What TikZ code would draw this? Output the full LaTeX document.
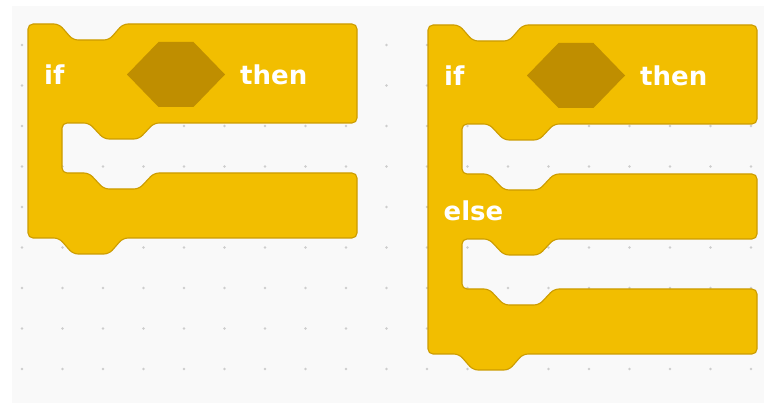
\documentclass[tikz,border=0pt]{standalone}
\usepackage{fontspec}
\newfontfamily\blockfont{DejaVu Sans}
\definecolor{panelbg}{RGB}{249,249,249}
\definecolor{dotc}{RGB}{205,205,205}
\definecolor{blockfill}{RGB}{242,190,0}
\definecolor{blockline}{RGB}{204,156,0}
\definecolor{hexfill}{RGB}{191,142,0}
\tikzset{
  blockshape/.style={fill=blockfill, draw=blockline, line width=1.1pt, rounded corners=5pt, line join=round},
  hexshape/.style={fill=hexfill, draw=none},
  blocktext/.style={text=white, inner sep=0pt, anchor=base west, font=\blockfont\bfseries\fontsize{26}{30}\selectfont}
}
\begin{document}
\begin{tikzpicture}[x=1pt, y=-1pt]
\useasboundingbox (0,0) rectangle (764,403);
\fill[white] (0,0) rectangle (764,403);
\fill[panelbg] (12,6) rectangle (764,403);
\foreach \i in {0,...,18}{
  \foreach \j in {0,...,8}{
    \fill[dotc] ({22+40.5*\i},{45+40.5*\j}) circle (1.3pt);
  }
}
% if-then block
\begin{scope}[shift={(28,24)}]
\draw[blockshape] (0,50) -- (0,0) -- (31,0) -- (45,16) -- (81,16) -- (95,0) -- (329,0) -- (329,99)
  -- (126,99) -- (111,115) -- (76,115) -- (61,99) -- (34,99) -- (34,149)
  -- (61,149) -- (76,165) -- (111,165) -- (126,149) -- (329,149) -- (329,214)
  -- (95,214) -- (81,230) -- (45,230) -- (31,214) -- (0,214) -- cycle;
\fill[hexshape] (99,50.5) -- (130.5,18) -- (165.5,18) -- (197,50.5) -- (165.5,83) -- (130.5,83) -- cycle;
\node[blocktext] (if1) at (16,61) {if};
\node[blocktext] (then1) at (212,61) {then};
\end{scope}
% if-then-else block
\begin{scope}[shift={(428,25)}]
\draw[blockshape] (0,50) -- (0,0) -- (31,0) -- (45,16) -- (81,16) -- (95,0) -- (329,0) -- (329,99)
  -- (126,99) -- (111,115) -- (76,115) -- (61,99) -- (34,99) -- (34,149)
  -- (61,149) -- (76,165) -- (111,165) -- (126,149) -- (329,149) -- (329,214)
  -- (126,214) -- (111,230) -- (76,230) -- (61,214) -- (34,214) -- (34,264)
  -- (61,264) -- (76,280) -- (111,280) -- (126,264) -- (329,264) -- (329,329)
  -- (95,329) -- (81,345) -- (45,345) -- (31,329) -- (0,329) -- cycle;
\fill[hexshape] (99,50.5) -- (130.5,18) -- (165.5,18) -- (197,50.5) -- (165.5,83) -- (130.5,83) -- cycle;
\node[blocktext] (if2) at (16,61) {if};
\node[blocktext] (then2) at (212,61) {then};
\node[blocktext] (else2) at (15.5,196) {else};
\end{scope}
\end{tikzpicture}
\end{document}
